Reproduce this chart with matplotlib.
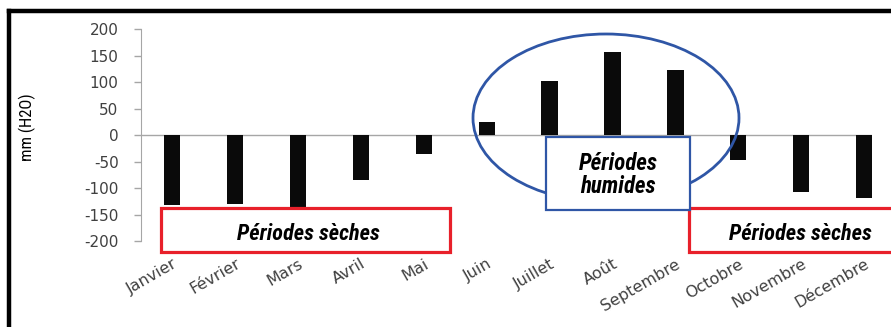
import matplotlib
matplotlib.use("Agg")
import matplotlib.pyplot as plt
from matplotlib.patches import Rectangle, Ellipse
from matplotlib.lines import Line2D
from matplotlib import font_manager

# bilan hydrique mensuel (mm H2O)
mois = ['Janvier', 'Février', 'Mars', 'Avril', 'Mai', 'Juin', 'Juillet',
        'Août', 'Septembre', 'Octobre', 'Novembre', 'Décembre']
bilan = [-132, -130, -138, -85, -36, 24, 102, 157, 123, -47, -108, -119]
yticks = [-200, -150, -100, -50, 0, 50, 100, 150, 200]

noms = sorted({f.name for f in font_manager.fontManager.ttflist})
narrow = [n for n in ['Liberation Sans Narrow', 'DejaVu Sans Condensed', 'Roboto Condensed']
          if n in noms] + ['Roboto', 'DejaVu Sans']

fig = plt.figure(figsize=(8.91, 3.27), dpi=100)
ax = fig.add_axes([0.158, 0.263, 0.821, 0.648])

x = range(len(mois))
ax.bar(x, bilan, width=0.26, color='#0a0a0a', zorder=3)
ax.axhline(0, color='#a6a6a6', lw=1, zorder=2)

ax.set_ylim(-200, 200)
ax.set_xlim(-0.5, 11.13)
ax.set_yticks(yticks)
ax.set_yticklabels([str(v) for v in yticks], family='DejaVu Sans', fontsize=11,
                   color='#404040')
ax.set_xticks(list(x))
ax.set_xticklabels(mois, rotation=30, ha='right', rotation_mode='anchor',
                   family='DejaVu Sans', fontsize=11.5, color='#404040')
ax.tick_params(axis='x', length=0, pad=11)
ax.tick_params(axis='y', length=5, color='#a6a6a6', width=1, pad=11)
for s in ['top', 'right', 'bottom']:
    ax.spines[s].set_visible(False)
ax.spines['left'].set_color('#a6a6a6')

W, H = 891, 327

def fx(px):
    return px / W

def fy(py):
    return 1 - py / H

fig.text(fx(27), fy(127), 'mm (H2O)', family=narrow, stretch='condensed',
         fontsize=12, rotation=90, ha='center', va='center')

# encadrés "Périodes sèches"
for x0, x1 in [(161, 450), (689, 905)]:
    fig.patches.append(Rectangle((fx(x0), fy(252)), fx(x1 - x0), (252 - 208) / H,
                                 transform=fig.transFigure, fill=True, fc='white',
                                 ec='#e8202a', lw=2.3, zorder=5))
for cx in [308, 800]:
    fig.text(fx(cx), fy(234), 'Périodes sèches', family=narrow, stretch='condensed',
             style='italic', weight='bold', fontsize=16, ha='center', va='center',
             zorder=6)

# ellipse et encadré "Périodes humides"
fig.patches.append(Ellipse((fx(606), fy(118)), 266 / W, 168 / H,
                           transform=fig.transFigure, fill=False,
                           ec='#2f56a6', lw=2, zorder=4))
fig.patches.append(Rectangle((fx(546), fy(210)), fx(690 - 546), (210 - 137) / H,
                             transform=fig.transFigure, fc='white',
                             ec='#2f56a6', lw=1.6, zorder=5))
fig.text(fx(618), fy(175), 'Périodes\nhumides', family=narrow, stretch='condensed',
         style='italic', weight='bold', fontsize=16.5, ha='center', va='center',
         zorder=6, linespacing=1.0)

# cadre noir
fig.lines.append(Line2D([fx(9), 1.01], [fy(11), fy(11)], transform=fig.transFigure,
                        color='black', lw=3.2))
fig.lines.append(Line2D([fx(9), fx(9)], [fy(11), -0.01], transform=fig.transFigure,
                        color='black', lw=3.2))

fig.savefig('out.png', dpi=100)
